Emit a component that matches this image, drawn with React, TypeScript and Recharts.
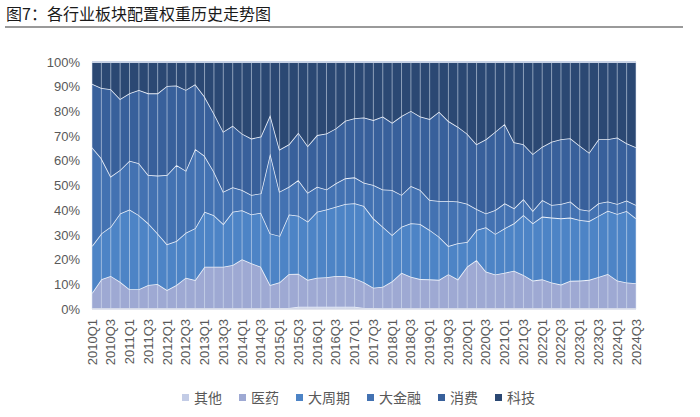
import React from 'react';
import { AreaChart, Area, XAxis, YAxis, ReferenceLine, Legend } from 'recharts';

const years = [2010, 2011, 2012, 2013, 2014, 2015, 2016, 2017, 2018, 2019, 2020, 2021, 2022, 2023, 2024];
const quarterNames = ['Q1', 'Q2', 'Q3', 'Q4'];
const quarters: string[] = years.flatMap((y) => quarterNames.map((q) => `${y}${q}`)).slice(0, 59);

const yTicks = [0, 0.1, 0.2, 0.3, 0.4, 0.5, 0.6, 0.7, 0.8, 0.9, 1];

const qita = [0.2,0.2,0.2,0.2,0.2,0.2,0.2,0.2,0.2,0.2, 0.2,0.2,0.2,0.2,0.2,0.2,0.2,0.2,0.2,0.4, 0.4,0.4,0.9,0.9,0.9,0.9,0.9,0.9,0.9,0.4, 0.4,0.2,0.2,0.2,0.2,0.2,0.2,0.2,0.2,0.2, 0.2,0.2,0.2,0.2,0.2,0.2,0.2,0.2,0.2,0.2, 0.2,0.2,0.2,0.2,0.2,0.2,0.2,0.2,0.2];
const yiyao = [6.3,11.8,13.2,10.8,7.8,7.8,9.5,9.9,7.5,9.5, 12.5,11.5,16.9,16.9,16.9,17.6,19.9,18.3,16.9,9.3, 10.4,13.8,13.4,10.9,11.8,12.0,12.5,12.5,11.6,10.4, 8.2,8.8,11.0,14.5,12.9,11.9,11.8,11.6,13.9,11.8, 17.0,19.6,15.0,13.8,14.5,15.3,13.6,11.3,11.8,10.5, 9.7,11.2,11.3,11.6,12.8,14.0,11.3,10.5,10.2];
const dazhouqi = [19.0,18.6,19.9,27.7,32.3,30.0,25.0,20.5,18.5,17.8, 18.2,21.0,22.3,20.9,17.3,21.6,19.9,19.8,21.9,20.9, 18.8,24.1,23.5,23.6,26.7,27.4,28.0,29.1,30.3,30.9, 28.1,24.3,18.8,18.6,21.6,22.3,20.0,17.5,11.4,14.6, 9.9,12.2,17.9,16.4,18.0,19.2,24.3,23.2,25.4,26.3, 26.8,25.6,24.5,23.8,24.7,25.6,27.0,29.0,26.3];
const dajinrong = [40.0,30.4,20.3,17.6,19.7,21.0,19.6,23.4,28.1,30.8, 25.1,32.1,22.6,17.6,13.1,9.9,8.2,7.9,7.8,32.4, 17.9,11.2,14.4,11.7,10.1,8.1,9.5,10.4,10.5,9.4, 13.5,15.1,18.2,12.9,15.1,13.8,12.1,14.4,18.2,16.9, 15.5,8.5,5.6,9.7,10.1,6.1,6.4,5.1,6.7,5.1, 5.8,6.5,4.4,4.2,5.1,3.7,4.0,4.2,5.4];
const xiaofei = [25.7,28.5,35.4,28.7,27.3,29.7,33.0,33.3,36.0,32.2, 32.7,26.2,24.0,23.6,24.3,24.9,22.8,22.8,23.0,15.5, 17.1,17.2,19.2,18.9,20.9,22.7,22.2,23.3,23.9,26.4, 26.3,29.5,27.2,31.9,30.4,29.7,32.8,36.2,32.4,30.3, 28.4,26.2,30.0,31.7,32.1,26.7,22.2,23.0,21.6,25.6, 26.2,25.6,25.7,23.5,25.9,25.2,26.9,23.2,23.4];
const keji = [8.8,10.5,11.0,15.0,12.7,11.3,12.7,12.7,9.7,9.5, 11.3,9.0,14.0,20.8,28.2,25.8,29.0,31.0,30.2,21.5, 35.4,33.3,28.6,34.0,29.6,28.9,26.9,23.8,22.8,22.5, 23.5,22.1,24.6,21.9,19.8,22.1,23.1,20.1,23.9,26.2, 29.0,33.3,31.3,28.2,25.1,32.5,33.3,37.2,34.3,32.3, 31.3,30.9,33.9,36.7,31.3,31.3,30.6,32.9,34.5];

const seriesList = [
  { key: '其他', values: qita, color: '#c3cce6' },
  { key: '医药', values: yiyao, color: '#9ea9d3' },
  { key: '大周期', values: dazhouqi, color: '#4d84c6' },
  { key: '大金融', values: dajinrong, color: '#4372b2' },
  { key: '消费', values: xiaofei, color: '#38609b' },
  { key: '科技', values: keji, color: '#2b4873' },
];

const data = quarters.map((q, i) => {
  const row: Record<string, string | number> = { q };
  seriesList.forEach((s) => {
    row[s.key] = s.values[i];
  });
  return row;
});

const LATIN = '"Liberation Sans", Arial, sans-serif';
const CJK = '"Noto Sans CJK SC", "Noto Sans", sans-serif';

const XTick = (props: any) => {
  const { x, y, payload } = props;
  return (
    <g transform={`translate(${x},${y})`}>
      <text
        transform="rotate(-90)"
        x={-8}
        y={0}
        dy={4.5}
        textAnchor="end"
        fontSize={13}
        fontFamily={LATIN}
        fill="#595959"
      >
        {payload.value}
      </text>
    </g>
  );
};

const LegendContent = () => (
  <div
    style={{
      display: 'flex',
      justifyContent: 'center',
      alignItems: 'flex-start',
      height: 30,
      width: 700,
      fontFamily: CJK,
      fontSize: 14,
      color: '#595959',
      paddingLeft: 34,
      boxSizing: 'border-box',
    }}
  >
    {seriesList.map((s) => (
      <div key={s.key} style={{ display: 'flex', alignItems: 'center', marginRight: 17, height: 20 }}>
        <span style={{ display: 'inline-block', width: 7, height: 7, background: s.color, marginRight: 5 }} />
        <span style={{ lineHeight: '20px' }}>{s.key}</span>
      </div>
    ))}
  </div>
);

export default function App() {
  return (
    <div style={{ position: 'absolute', left: 0, top: 0, width: 700, height: 417, background: '#fff' }}>
      <div
        style={{
          position: 'absolute',
          left: 6,
          top: 3,
          fontFamily: CJK,
          fontSize: 16,
          color: '#1a1a1a',
          lineHeight: '20px',
          whiteSpace: 'nowrap',
        }}
      >
        图7：各行业板块配置权重历史走势图
      </div>
      <div style={{ position: 'absolute', left: 5, top: 26, width: 678, height: 1.5, background: '#9a9a9a' }} />
      <div style={{ position: 'absolute', left: 0, top: 0 }}>
        <AreaChart
          width={700}
          height={417}
          data={data}
          stackOffset="expand"
          margin={{ top: 62, right: 64, bottom: 0, left: 0 }}
        >
          <XAxis
            dataKey="q"
            interval={1}
            tick={<XTick />}
            tickLine={false}
            tickSize={0}
            height={78}
            axisLine={{ stroke: '#d8dde8', strokeWidth: 1.5 }}
          />
          <YAxis
            width={92}
            ticks={yTicks}
            domain={[0, 1]}
            tickFormatter={(v: number) => `${Math.round(v * 100)}%`}
            axisLine={false}
            tickLine={false}
            tickSize={0}
            tickMargin={12}
            tick={{ fontSize: 13, fontFamily: LATIN, fill: '#595959' }}
          />
          {seriesList.map((s) => (
            <Area
              key={s.key}
              type="linear"
              dataKey={s.key}
              stackId="1"
              fill={s.color}
              fillOpacity={1}
              stroke="#eef2fa"
              strokeWidth={1.6}
              isAnimationActive={false}
            />
          ))}
          {quarters.map((q) => (
            <ReferenceLine key={q} x={q} stroke="#dfe7f4" strokeOpacity={0.55} strokeWidth={1} />
          ))}
          <ReferenceLine y={1} stroke="#c9d3e6" strokeWidth={2} />
          <Legend
            verticalAlign="bottom"
            align="center"
            wrapperStyle={{ left: 0, width: 700 }}
            content={<LegendContent />}
          />
        </AreaChart>
      </div>
    </div>
  );
}
